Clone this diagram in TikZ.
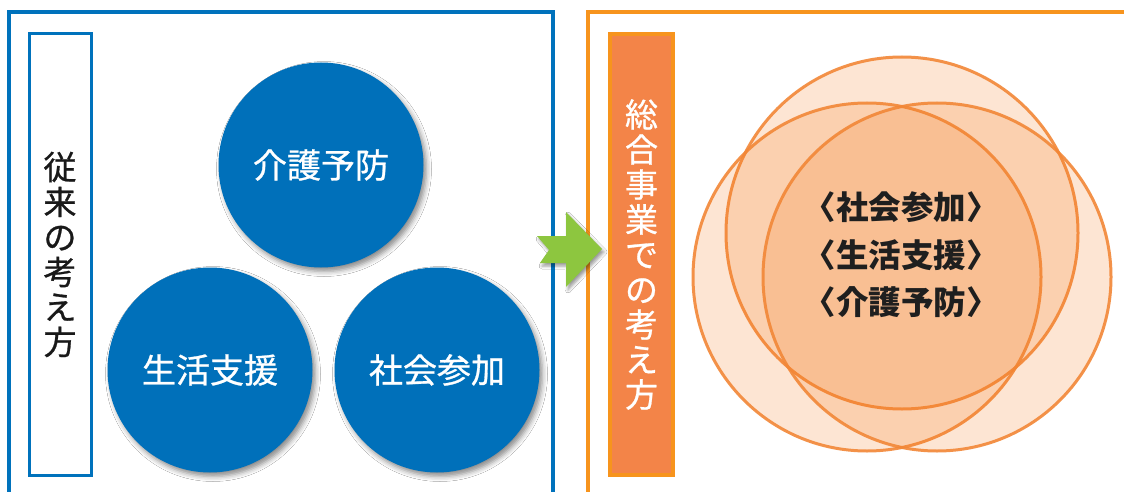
\documentclass[tikz,border=0pt]{standalone}
\usepackage{fontspec}
\newfontfamily\jp[FakeBold=0.8]{Noto Sans CJK JP}
\newfontfamily\jph[RawFeature=+halt]{Noto Sans CJK JP}
\usetikzlibrary{shadows.blur}
\definecolor{fblue}{RGB}{0,114,188}
\definecolor{cblue}{RGB}{0,112,186}
\definecolor{oframe}{RGB}{247,148,29}
\definecolor{obox}{RGB}{243,132,72}
\definecolor{ofill}{RGB}{245,125,35}
\definecolor{oline}{RGB}{242,135,55}
\definecolor{agreen}{RGB}{141,198,63}
\begin{document}
\begin{tikzpicture}[x=1pt,y=-1pt,
  bluecirc/.style={circle,fill=cblue,minimum size=205pt,inner sep=0pt,text=white,
    font=\jp\fontsize{34}{36}\selectfont,
    blur shadow={shadow xshift=3pt,shadow yshift=-4pt,shadow blur radius=5pt,shadow opacity=45}},
  ocirc/.style={circle,fill=ofill,fill opacity=0.2,draw=oline,draw opacity=0.9,line width=3pt,inner sep=0pt},
  vlabel/.style={align=center,inner sep=0pt,font=\jp\fontsize{33}{35}\selectfont}]
\useasboundingbox (0,0) rectangle (1124,492);
\fill[white] (0,0) rectangle (1124,492);
% frames
\draw[fblue,line width=4pt] (9,492) -- (9,12.5) -- (553,12.5) -- (553,492);
\draw[oframe,line width=4pt] (588,492) -- (588,12.5) -- (1124,12.5);
% left label box
\node[vlabel,draw=fblue,line width=3pt,minimum width=62pt,minimum height=441pt,text=black!90] (lbox) at (60,254.5)
  {従\\来\\の\\考\\え\\方};
% blue circles
\node[bluecirc] (kaigo) at (321,165) {介護予防};
\node[bluecirc] (seikatsu) at (210,370) {生活支援};
\node[bluecirc] (shakai) at (437,370) {社会参加};
% right label box
\node[vlabel,draw=oframe,fill=obox,line width=4pt,minimum width=63pt,minimum height=441pt,text=white] (rbox) at (641.5,254.5)
  {総\\合\\事\\業\\で\\の\\考\\え\\方};
% overlapping circles
\node[ocirc,minimum size=352pt] (ca) at (902,233) {};
\node[ocirc,minimum size=348pt] (cb) at (867,277) {};
\node[ocirc,minimum size=348pt] (cc) at (937,277) {};
\node[align=center,inner sep=0pt,font=\jph\bfseries\fontsize{32.5}{47.5}\selectfont,text=black!88] (ctext) at (901,255)
  {〈社会参加〉\\〈生活支援〉\\〈介護予防〉};
% green arrow
\fill[agreen,blur shadow={shadow xshift=2pt,shadow yshift=-3pt,shadow blur radius=3pt,shadow opacity=40}]
  (537,236) -- (566,236) -- (566,212) -- (602,249) -- (566,287) -- (566,263) -- (540,263) -- (549,250) -- cycle;
\end{tikzpicture}
\end{document}
